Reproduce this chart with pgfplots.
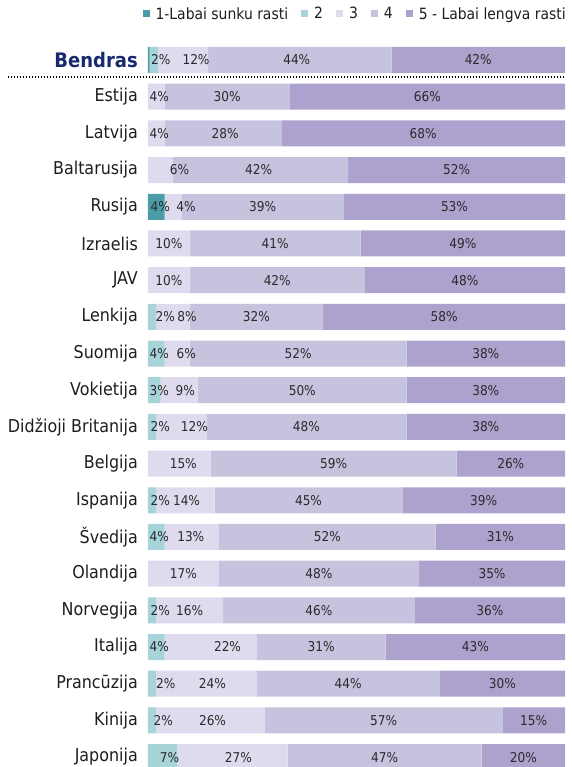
\documentclass[border=0pt]{standalone}
\usepackage{pgfplots}
\pgfplotsset{compat=1.18}
\usepackage{pgfplotstable}
\usepackage{fontspec}
\setmainfont{DejaVu Sans Condensed}
\definecolor{c1}{HTML}{4A9DA6}
\definecolor{c2}{HTML}{A6D4D8}
\definecolor{c3}{HTML}{DEDBEE}
\definecolor{c4}{HTML}{C6C3DF}
\definecolor{c5}{HTML}{ADA2CE}
\definecolor{navy}{HTML}{172A6E}
\definecolor{labelc}{HTML}{1E1E1E}
\definecolor{pctc}{HTML}{2A2A2A}

% y: row, vK: value of segment K, dK: label offset from segment centre (px)
\pgfplotstableread{
y v1 d1 v2 d2 v3 d3 v4 d4 v5 d5
0 0.4 0 2 7 12 13 44 -3 41.6 0
1 0 0 0 0 4 3 30 0 66 0
2 0 0 0 0 4 3 28 2 68 0
3 0 0 0 0 6 19 42 -2 52 0
4 4 4 0 0 4 13 39 0 53 0
5 0 0 0 0 10 0 41 0 49 0
6 0 0 0 0 10 0 42 0 48 0
7 0 0 2 13 8 14 32 0 58 0
8 0 0 4 3 6 9 52 0 38 0
9 0 0 3 5 9 6 50 0 38 0
10 0 0 2 8 12 13 48 0 38 0
11 0 0 0 0 15 4 59 0 26 0
12 0 0 2 8 14 1 45 0 39 0
13 0 0 4 3 13 -1 52 0 31 0
14 0 0 0 0 17 0 48 0 35 0
15 0 0 2 8 16 0 46 0 36 0
16 0 0 4 3 22 17 31 0 43 0
17 0 0 2 13.5 24 6 44 0 30 0
18 0 0 2 11 26 2 57 0 15 0
19 0 0 7 7 26.5 6 46.5 0 20 0
}\data

\pgfplotsset{
  common/.style={
    scale only axis, width=417pt, height=727pt,
    xmin=0, xmax=100, ymin=-0.545, ymax=19.27, y dir=reverse,
  },
  lab/.style={draw=none, mark=none, point meta=explicit,
    nodes near coords={\pgfmathprintnumber[fixed,precision=0]{\pgfplotspointmeta}\%},
    every node near coord/.append style={anchor=center, inner sep=0pt,
      font=\fontsize{13.5}{14}\selectfont, text=pctc},
    unbounded coords=discard},
}

\begin{document}
\begin{tikzpicture}
\begin{axis}[common,
  xbar stacked, bar width=26pt,
  hide x axis,
  axis y line*=left, y axis line style={draw=none},
  ytick={0,...,19}, ytick style={draw=none}, major tick length=0pt,
  yticklabels={{\fontsize{20}{20}\selectfont\bfseries\color{navy}Bendras},Estija,Latvija,Baltarusija,Rusija,Izraelis,JAV,Lenkija,Suomija,Vokietija,Didžioji Britanija,Belgija,Ispanija,Švedija,Olandija,Norvegija,Italija,Prancūzija,Kinija,Japonija},
  yticklabel style={font=\fontsize{17.7}{18}\selectfont, text=labelc, inner sep=0pt, xshift=-10pt},
  clip mode=individual,
  seg/.style={draw=none, fill=#1},
  legend columns=5,
  legend image code/.code={\draw[#1,/tikz/.cd,draw=none] (0pt,-3.5pt) rectangle (7pt,3.5pt);},
  legend style={at={(1,1)}, anchor=east, xshift=3pt, yshift=26pt, draw=none, fill=none,
    font=\fontsize{15.5}{16}\selectfont, text=labelc, inner sep=0pt,
    /tikz/every odd column/.append style={column sep=4pt},
    /tikz/every even column/.append style={column sep=11pt}},
]
\addplot[seg=c1] table[x=v1,y=y]{\data};
\addplot[seg=c2] table[x=v2,y=y]{\data};
\addplot[seg=c3] table[x=v3,y=y]{\data};
\addplot[seg=c4] table[x=v4,y=y]{\data};
\addplot[seg=c5] table[x=v5,y=y]{\data};
\legend{1-Labai sunku rasti, 2, 3, 4, 5 - Labai lengva rasti}
\draw[black, line width=1.3pt, dash pattern=on 1.3pt off 1.7pt] (axis cs:-33.6,0.463) -- (axis cs:100,0.463);
\end{axis}
\begin{axis}[common, hide axis, /pgf/number format/assume math mode=true]
\addplot[lab, restrict expr to domain={\thisrow{v1}}{0.9:1000}] table[x expr={0.5*\thisrow{v1}+\thisrow{d1}/4.17}, y=y, meta=v1]{\data};
\addplot[lab, restrict expr to domain={\thisrow{v2}}{0.9:1000}] table[x expr={\thisrow{v1}+0.5*\thisrow{v2}+\thisrow{d2}/4.17}, y=y, meta=v2]{\data};
\addplot[lab, restrict expr to domain={\thisrow{v3}}{0.9:1000}] table[x expr={\thisrow{v1}+\thisrow{v2}+0.5*\thisrow{v3}+\thisrow{d3}/4.17}, y=y, meta=v3]{\data};
\addplot[lab, restrict expr to domain={\thisrow{v4}}{0.9:1000}] table[x expr={\thisrow{v1}+\thisrow{v2}+\thisrow{v3}+0.5*\thisrow{v4}+\thisrow{d4}/4.17}, y=y, meta=v4]{\data};
\addplot[lab, restrict expr to domain={\thisrow{v5}}{0.9:1000}] table[x expr={\thisrow{v1}+\thisrow{v2}+\thisrow{v3}+\thisrow{v4}+0.5*\thisrow{v5}+\thisrow{d5}/4.17}, y=y, meta=v5]{\data};
\end{axis}
\pgfresetboundingbox
\path[use as bounding box] ([xshift=-148pt]current axis.south west) rectangle ([xshift=6pt,yshift=40pt]current axis.north east);
\end{tikzpicture}
\end{document}
